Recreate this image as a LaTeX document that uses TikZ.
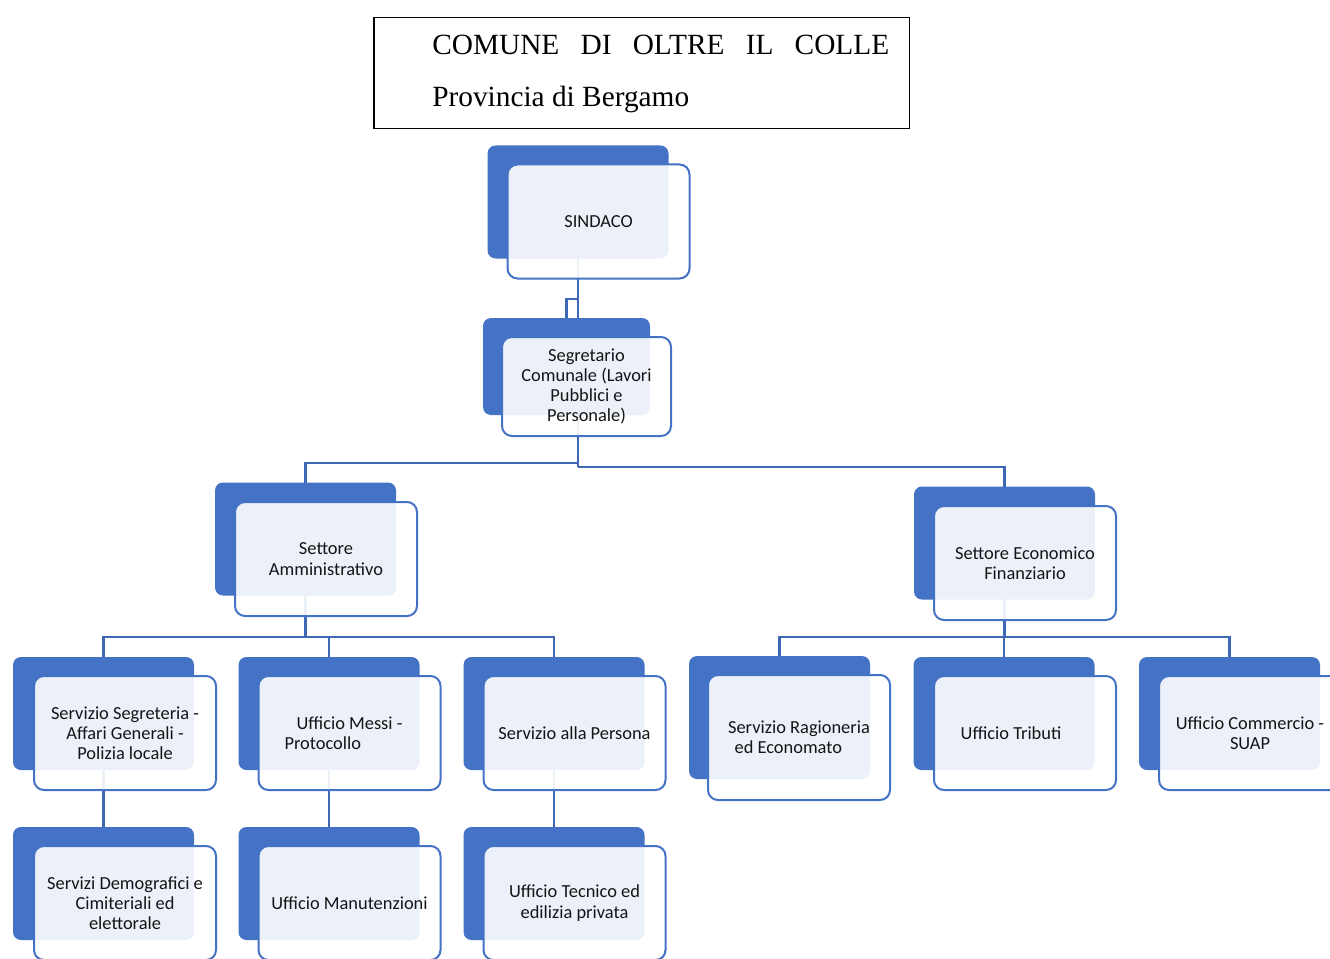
\documentclass[tikz,border=0pt]{standalone}
\usepackage{fontspec}
\setmainfont{Carlito}
\newfontfamily\titlefont{Liberation Serif}
\usetikzlibrary{positioning,backgrounds}
\definecolor{orgblue}{RGB}{68,114,196}
\definecolor{linkblue}{RGB}{62,104,182}
\tikzset{
  back/.style={fill=orgblue, rounded corners=6pt, inner sep=0pt,
    minimum width=135.75pt, minimum height=84.75pt},
  front/.style={draw=orgblue, line width=1.5pt, fill=white, fill opacity=0.9,
    text opacity=1, text=black!92, rounded corners=7.5pt, align=center,
    minimum width=136.5pt, minimum height=85.5pt, inner sep=2pt,
    font=\fontsize{13.8pt}{15.2pt}\selectfont},
  conn/.style={draw=linkblue, line width=1.7pt},
  titolo/.style={anchor=base west, inner sep=0pt,
    font=\titlefont\fontsize{22pt}{26pt}\selectfont}
}

\begin{document}
\begin{tikzpicture}[x=0.75pt,y=-0.75pt]
\useasboundingbox (0,0) rectangle (1330,959);

% intestazione
\node[draw, line width=1.1pt, minimum width=401.6pt, minimum height=82.9pt] (cornice) at (641.5,73) {};
\node[titolo] (comune) at (432,55) {\makebox[342.75pt][s]{COMUNE DI OLTRE IL COLLE}};
\node[titolo] (provincia) at (432,107) {Provincia di Bergamo};

% vertice
\node[back] (sindacoB) at (578,202) {};
\node[front] (sindaco) at ([shift={(20.5,19.5)}]sindacoB.center) {SINDACO};

\node[back, minimum width=125.25pt, minimum height=72.75pt] (segretarioB) at (566.5,366.5) {};
\node[front, minimum width=126.75pt, minimum height=74.25pt] (segretario) at ([shift={(20,20)}]segretarioB.center)
  {Segretario\\Comunale (Lavori\\Pubblici e\\Personale)};

% settori
\node[back] (amministrativoB) at (305.5,539) {};
\node[front] (amministrativo) at ([shift={(20.5,20)}]amministrativoB.center) {Settore\\Amministrativo};

\node[back] (economicoB) at (1004.5,543) {};
\node[front] (economico) at ([shift={(20.5,20)}]economicoB.center) {Settore Economico\\Finanziario};

% uffici
\node[back] (segreteriaB) at (103.5,713.5) {};
\node[front] (segreteria) at ([shift={(21.5,19.5)}]segreteriaB.center) {Servizio Segreteria -\\Affari Generali -\\Polizia locale};

\node[back] (messiB) at (329,713.5) {};
\node[front] (messi) at ([shift={(20.5,19.5)}]messiB.center) {Ufficio Messi -\\Protocollo\hspace*{40pt}};

\node[back] (personaB) at (554,713.5) {};
\node[front] (persona) at ([shift={(20.5,19.5)}]personaB.center) {Servizio alla Persona};

\node[back, minimum height=92.25pt] (ragioneriaB) at (779.5,717.5) {};
\node[front, minimum height=93.75pt] (ragioneria) at ([shift={(19.5,20)}]ragioneriaB.center) {Servizio Ragioneria\\ed Economato\hspace*{16pt}};

\node[back] (tributiB) at (1004,713.5) {};
\node[front] (tributi) at ([shift={(21,19.5)}]tributiB.center) {Ufficio Tributi\hspace*{21pt}};

\node[back] (commercioB) at (1229.5,713.5) {};
\node[front] (commercio) at ([shift={(20.5,19.5)}]commercioB.center) {Ufficio Commercio -\\SUAP};

\node[back] (demograficiB) at (103.5,883.5) {};
\node[front] (demografici) at ([shift={(21.5,19.5)}]demograficiB.center) {Servizi Demografici e\\Cimiteriali ed\\elettorale};

\node[back] (manutenzioniB) at (329,883.5) {};
\node[front] (manutenzioni) at ([shift={(20.5,19.5)}]manutenzioniB.center) {Ufficio Manutenzioni};

\node[back] (tecnicoB) at (554,883.5) {};
\node[front] (tecnico) at ([shift={(20.5,19.5)}]tecnicoB.center) {Ufficio Tecnico ed\\edilizia privata};

% collegamenti
\begin{scope}[on background layer]
\draw[conn] (sindacoB.center) -- ++(0,265) coordinate (snodo);
\draw[conn] (segretarioB.north) -- ++(0,-19) -- ++(11.5,0);
\draw[conn] (snodo) -| (economicoB.center);
\draw[conn] (snodo) ++(0,-4) -| (amministrativoB.center);
\draw[conn] (amministrativoB.center) -- ++(0,98) coordinate (anodo);
\draw[conn] (anodo) -| (segreteriaB.center);
\draw[conn] (anodo) -| (messiB.center);
\draw[conn] (anodo) -| (personaB.center);
\draw[conn] (economicoB.center) -- ++(0,94) coordinate (enodo);
\draw[conn] (enodo) -| (ragioneriaB.center);
\draw[conn] (enodo) -| (tributiB.center);
\draw[conn] (enodo) -| (commercioB.center);
\draw[conn] (segreteriaB.center) -- (demograficiB.center);
\draw[conn] (messiB.center) -- (manutenzioniB.center);
\draw[conn] (personaB.center) -- (tecnicoB.center);
\end{scope}
\end{tikzpicture}
\end{document}
